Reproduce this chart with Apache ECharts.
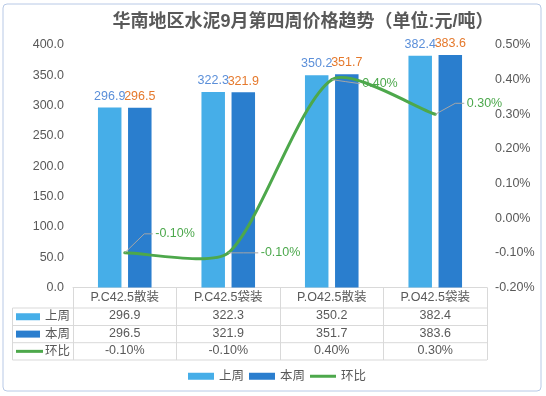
<!DOCTYPE html>
<html><head><meta charset="utf-8">
<script src="https://cdn.jsdelivr.net/npm/echarts@6/dist/echarts.min.js"></script>
<style>html,body{margin:0;padding:0;background:#fff}#c{width:546px;height:396px}</style>
</head><body><div id="c"></div>
<script>
const title = '华南地区水泥9月第四周价格趋势（单位:元/吨）';
const categories = ['P.C42.5散装', 'P.C42.5袋装', 'P.O42.5散装', 'P.O42.5袋装'];
const lastWeek = [296.9, 322.3, 350.2, 382.4];
const thisWeek = [296.5, 321.9, 351.7, 383.6];
const ratio = [-0.10, -0.10, 0.40, 0.30];
const seriesNames = ['上周', '本周', '环比'];
const leftTicks = { min: 0, max: 400, interval: 50 };
const rightTicks = { min: -0.2, max: 0.5, interval: 0.1 };

const FONT = "'Liberation Sans','Noto Sans CJK SC',sans-serif";
const C_LIGHT = '#46AEE8', C_DARK = '#2A7ECE', C_GREEN = '#4DA84B';
const TXT = '#595959', GRIDC = '#D9D9D9';
const SMOOTH_K = 0.2;
// leader-line offsets (styling): [elbowDx, elbowDy, endDx, endDy]
const leader = [[19.5, -19, 28, -19], [15, 0, 30, 0], [14, 2, 28, 4], [20, -11, 29, -11]];

const chart = echarts.init(document.getElementById('c'), null, { renderer: 'canvas' });
const G = { left: 73, right: 59, top: 45, bottom: 108.5 };
const axisY = 396 - G.bottom;
const rows = [axisY, 308, 325.5, 342.7, 360];
const tableLeft = 12.5, tableRight = 546 - G.right;

const graphics = [
  { type: 'rect', shape: { x: 3, y: 4, width: 538, height: 387, r: 4 }, style: { fill: 'none', stroke: '#B8C9E6', lineWidth: 1 }, silent: true, z: 0 },
  { type: 'text', x: 303, y: 22.5, style: { text: title, align: 'center', verticalAlign: 'middle', font: "bold 18px " + FONT, fill: TXT }, z: 10 }
];
for (let i = 1; i < rows.length; i++) {
  graphics.push({ type: 'line', shape: { x1: tableLeft, y1: rows[i], x2: tableRight, y2: rows[i] }, style: { stroke: GRIDC, lineWidth: 1 }, silent: true });
}
graphics.push({ type: 'line', shape: { x1: tableLeft, y1: rows[1], x2: tableLeft, y2: rows[4] }, style: { stroke: GRIDC, lineWidth: 1 }, silent: true });
const rowMid = i => (rows[i] + rows[i + 1]) / 2;
[[C_LIGHT, 'rect'], [C_DARK, 'rect'], [C_GREEN, 'line']].forEach((s, k) => {
  const y = rowMid(k + 1);
  if (s[1] === 'rect') graphics.push({ type: 'rect', shape: { x: 16, y: y - 3.5, width: 24, height: 7 }, style: { fill: s[0] }, silent: true });
  else graphics.push({ type: 'line', shape: { x1: 16, y1: y, x2: 43, y2: y }, style: { stroke: s[0], lineWidth: 3 }, silent: true });
  graphics.push({ type: 'text', x: 45, y: y, style: { text: seriesNames[k], verticalAlign: 'middle', font: '12.5px ' + FONT, fill: TXT }, silent: true });
});

chart.setOption({
  animation: false,
  textStyle: { fontFamily: FONT },
  grid: G,
  legend: {
    data: [{ name: '上周', icon: 'rect' }, { name: '本周', icon: 'rect' }, { name: '环比', icon: 'path://M0,0H26V3H0Z' }],
    left: 183, top: 365, itemWidth: 26, itemHeight: 7, itemGap: 5,
    textStyle: { color: TXT, fontSize: 12.5, fontFamily: FONT }
  },
  xAxis: {
    type: 'category', data: categories,
    axisLine: { show: true, lineStyle: { color: GRIDC } },
    axisTick: { show: true, length: rows[4] - axisY, lineStyle: { color: GRIDC } },
    axisLabel: {
      margin: 0, interval: 0, color: TXT,
      formatter: (v, i) => `{h|${v}}\n{v|${lastWeek[i].toFixed(1)}}\n{v|${thisWeek[i].toFixed(1)}}\n{v|${ratio[i].toFixed(2)}%}`,
      rich: {
        h: { fontSize: 12.5, lineHeight: 19.5, color: TXT, fontFamily: FONT },
        v: { fontSize: 12.5, lineHeight: 17.4, color: TXT, fontFamily: FONT }
      }
    }
  },
  yAxis: [
    { type: 'value', min: leftTicks.min, max: leftTicks.max, interval: leftTicks.interval,
      axisLine: { show: false }, axisTick: { show: false }, splitLine: { show: false },
      axisLabel: { color: TXT, fontSize: 12.5, margin: 9, formatter: v => v.toFixed(1) } },
    { type: 'value', min: rightTicks.min, max: rightTicks.max, interval: rightTicks.interval,
      axisLine: { show: false }, axisTick: { show: false }, splitLine: { show: false },
      axisLabel: { color: TXT, fontSize: 12.5, margin: 8, formatter: v => (Math.round(v * 100) / 100).toFixed(2) + '%' } }
  ],
  series: [
    { name: '上周', type: 'bar', data: lastWeek, barWidth: 23.5, barGap: '28%', itemStyle: { color: C_LIGHT },
      label: { show: true, position: 'top', distance: 5, color: '#5B8FD9', fontSize: 12.5, fontFamily: FONT, formatter: p => p.value.toFixed(1) } },
    { name: '本周', type: 'bar', data: thisWeek, barWidth: 23.5, itemStyle: { color: C_DARK },
      label: { show: true, position: 'top', distance: 5, color: '#E5792C', fontSize: 12.5, fontFamily: FONT, formatter: p => p.value.toFixed(1) } },
    { name: '环比', type: 'custom', yAxisIndex: 1, z: 5, silent: true,
      itemStyle: { color: C_GREEN },
      data: ratio.map((r, i) => [i, r]),
      renderItem: (params, api) => {
        const i = params.dataIndex, n = ratio.length;
        const pt = j => api.coord([j, ratio[j]]);
        const tangent = j => {
          const a = pt(Math.max(0, j - 1)), b = pt(Math.min(n - 1, j + 1));
          const dx = b[0] - a[0], dy = b[1] - a[1], l = Math.hypot(dx, dy) || 1;
          return [dx / l, dy / l];
        };
        const p0 = api.coord([api.value(0), api.value(1)]);
        const children = [];
        if (i < n - 1) {
          const p1 = pt(i + 1);
          const L = Math.hypot(p1[0] - p0[0], p1[1] - p0[1]) * SMOOTH_K;
          const t0 = tangent(i), t1 = tangent(i + 1);
          children.push({ type: 'bezierCurve', shape: {
            x1: p0[0], y1: p0[1], x2: p1[0], y2: p1[1],
            cpx1: p0[0] + L * t0[0], cpy1: p0[1] + L * t0[1],
            cpx2: p1[0] - L * t1[0], cpy2: p1[1] - L * t1[1]
          }, style: { stroke: C_GREEN, lineWidth: 3, fill: null, lineCap: 'round' } });
        }
        const o = leader[i];
        children.push({ type: 'polyline', z2: 10, shape: { points: [p0, [p0[0] + o[0], p0[1] + o[1]], [p0[0] + o[2], p0[1] + o[3]]] }, style: { stroke: '#A6A6A6', lineWidth: 1, fill: null } });
        children.push({ type: 'text', z2: 10, x: p0[0] + o[2] + 2.5, y: p0[1] + o[3], style: { text: ratio[i].toFixed(2) + '%', verticalAlign: 'middle', align: 'left', fill: '#4CA84C', font: '12.5px ' + FONT } });
        return { type: 'group', children };
      } }
  ],
  graphic: graphics
});
</script></body></html>
